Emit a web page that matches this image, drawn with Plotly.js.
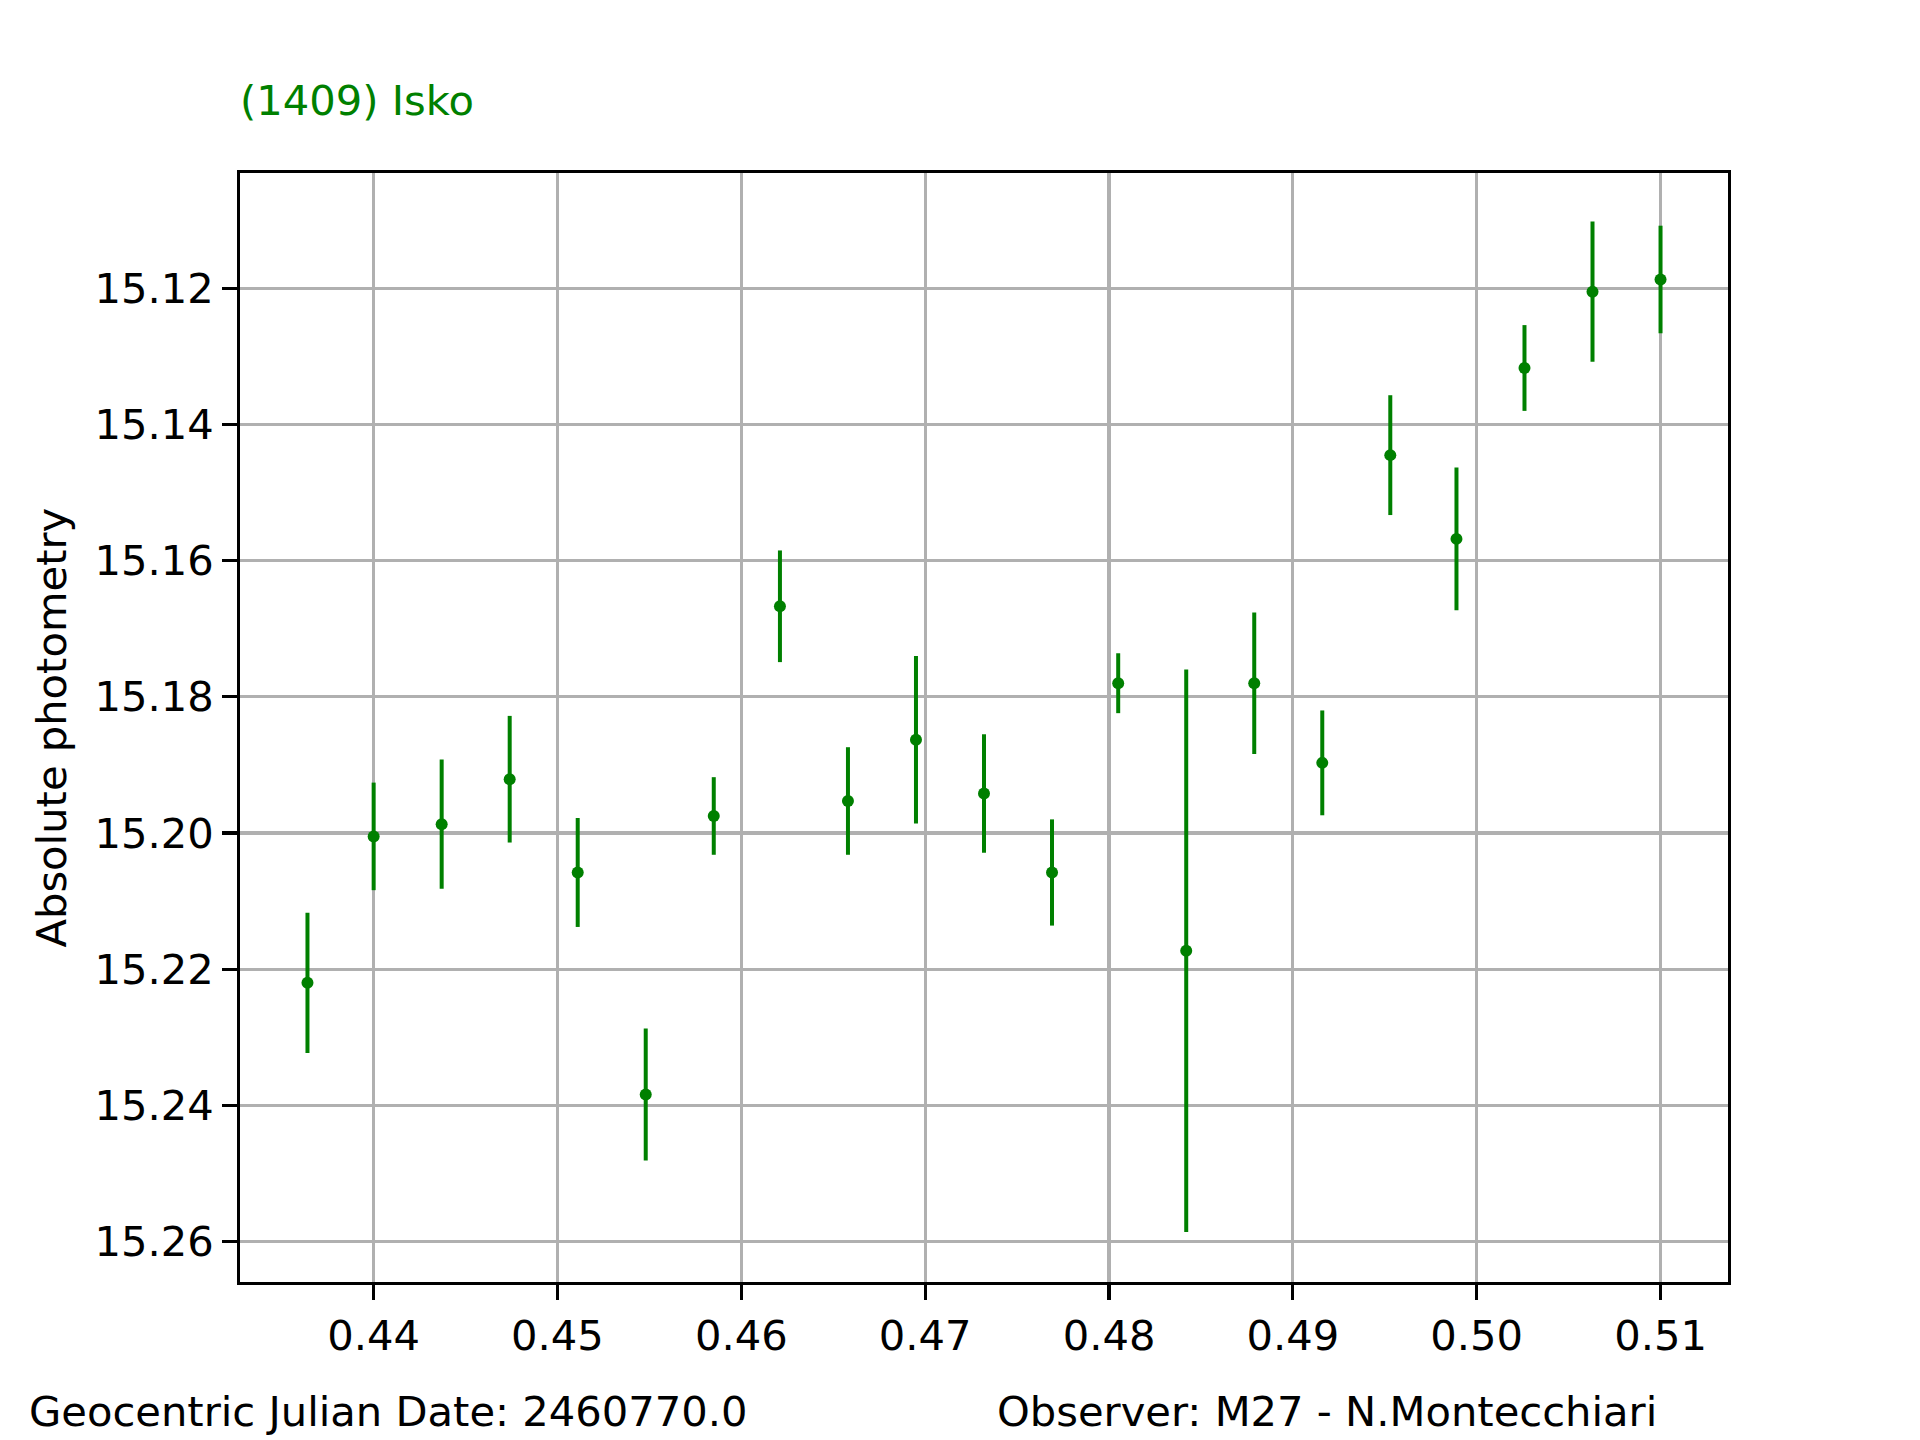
<!DOCTYPE html>
<html>
<head>
<meta charset="utf-8">
<script src="https://cdn.plot.ly/plotly-3.0.1.min.js"></script>
<style>
  html, body { margin: 0; padding: 0; background: #ffffff; }
  #chart { width: 1920px; height: 1440px; }
</style>
</head>
<body>
<div id="chart"></div>
<script>
// Observation times (fraction of the Julian day) and measured magnitudes
const jdFraction = [
    0.4364, 0.4400, 0.4437, 0.4474, 0.4511, 0.4548, 0.4585,
    0.4621, 0.4658, 0.4695, 0.4732, 0.4769, 0.4805, 0.4842,
    0.4879, 0.4916, 0.4953, 0.4989, 0.5026, 0.5063, 0.5100
];
const magnitude = [
    15.2220, 15.2005, 15.1987, 15.1921, 15.2058, 15.2384, 15.1975,
    15.1667, 15.1953, 15.1863, 15.1942, 15.2058, 15.1780, 15.2173,
    15.1780, 15.1897, 15.1445, 15.1568, 15.1317, 15.1205, 15.1187
];
const magError = [
    0.0103, 0.0079, 0.0095, 0.0093, 0.0080, 0.0097, 0.0057,
    0.0082, 0.0079, 0.0123, 0.0087, 0.0078, 0.0044, 0.0413,
    0.0104, 0.0077, 0.0088, 0.0105, 0.0063, 0.0103, 0.0079
];
const xTicks = [0.44, 0.45, 0.46, 0.47, 0.48, 0.49, 0.50, 0.51];
const yTicks = [15.12, 15.14, 15.16, 15.18, 15.20, 15.22, 15.24, 15.26];

const objectName = '(1409) Isko';
const dateLabel = 'Geocentric Julian Date: 2460770.0';
const observerLabel = 'Observer: M27 - N.Montecchiari';

(function() {
    'use strict';

    const green = '#008000';
    const fontFamily = '"DejaVu Sans", "Liberation Sans", sans-serif';
    const fs = 41.67; // 10pt at 300 dpi

    const trace = {
        x: jdFraction,
        y: magnitude,
        type: 'scatter',
        mode: 'markers',
        marker: { color: green, size: 12 },
        error_y: {
            type: 'data',
            array: magError,
            visible: true,
            color: green,
            thickness: 4,
            width: 0
        },
        hoverinfo: 'x+y'
    };

    const axisCommon = {
        showline: true,
        mirror: true,
        linecolor: '#000000',
        linewidth: 3.3,
        showgrid: true,
        gridcolor: '#b0b0b0',
        gridwidth: 3.3,
        zeroline: false,
        ticks: 'outside',
        ticklen: 14.6,
        tickwidth: 3.3,
        tickcolor: '#000000',
        tickformat: '.2f',
        tickmode: 'array',
        tickfont: { family: fontFamily, size: fs, color: '#000000' }
    };

    const layout = {
        width: 1920,
        height: 1440,
        margin: { l: 240, r: 192, t: 173, b: 158 },
        paper_bgcolor: '#ffffff',
        plot_bgcolor: '#ffffff',
        showlegend: false,
        font: { family: fontFamily, size: fs, color: '#000000' },
        xaxis: Object.assign({}, axisCommon, {
            range: [0.43273, 0.51367],
            tickvals: xTicks
        }),
        yaxis: Object.assign({}, axisCommon, {
            range: [15.26595, 15.10306],
            tickvals: yTicks
        }),
        annotations: [
            {
                text: objectName,
                xref: 'paper', yref: 'paper',
                x: -0.0015, y: 1.065,
                xanchor: 'left', yanchor: 'middle',
                showarrow: false,
                font: { family: fontFamily, size: fs, color: green }
            },
            {
                text: 'Absolute photometry',
                xref: 'paper', yref: 'paper',
                x: -0.127, y: 0.5,
                xanchor: 'center', yanchor: 'middle',
                textangle: -90,
                showarrow: false,
                font: { family: fontFamily, size: fs, color: '#000000' }
            },
            {
                text: dateLabel,
                xref: 'paper', yref: 'paper',
                x: -0.143, y: -0.117,
                xanchor: 'left', yanchor: 'middle',
                showarrow: false,
                font: { family: fontFamily, size: fs, color: '#000000' }
            },
            {
                text: observerLabel,
                xref: 'paper', yref: 'paper',
                x: 0.5074, y: -0.117,
                xanchor: 'left', yanchor: 'middle',
                showarrow: false,
                font: { family: fontFamily, size: fs, color: '#000000' }
            }
        ]
    };

    const config = { staticPlot: true, displayModeBar: false };

    Plotly.newPlot('chart', [trace], layout, config);
})();
</script>
</body>
</html>
